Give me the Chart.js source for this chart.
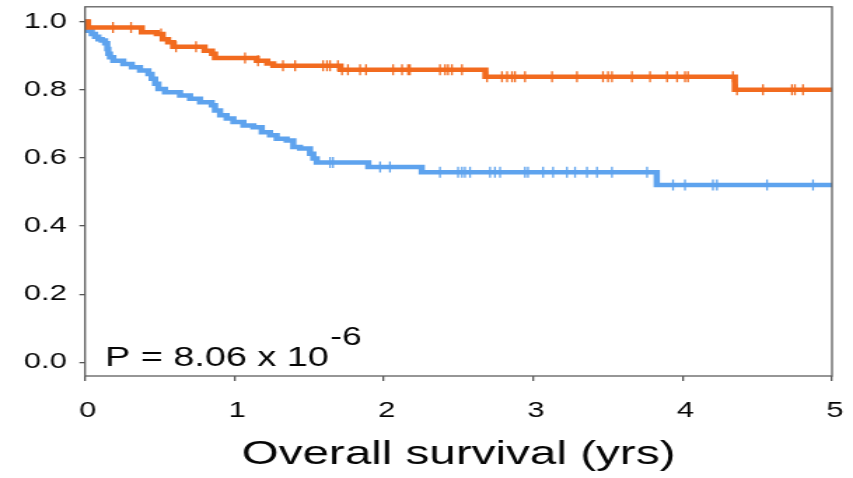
<!DOCTYPE html>
<html>
<head>
<meta charset="utf-8">
<script src="https://cdn.jsdelivr.net/npm/chart.js@4/dist/chart.umd.min.js"></script>
<style>
  html, body { margin: 0; padding: 0; background: #ffffff; }
  #wrap { width: 853px; height: 478px; overflow: hidden; }
</style>
</head>
<body>
<div id="wrap"><canvas id="c" width="609" height="478" style="display:block;width:853px;height:478px;"></canvas></div>
<script>
// ---- data (time in years, survival probability) ----
const xTickValues = [0, 1, 2, 3, 4, 5];
const yTickValues = [0.0, 0.2, 0.4, 0.6, 0.8, 1.0];

const orangeTimes = [0.00, 0.02, 0.38, 0.48, 0.52, 0.556, 0.59, 0.80, 0.85, 0.87, 1.15, 1.22, 1.26, 1.71, 2.68, 4.35, 5.00];
const orangeSurv  = [1.000, 0.982, 0.968, 0.963, 0.948, 0.939, 0.926, 0.914, 0.905, 0.893, 0.885, 0.877, 0.870, 0.858, 0.838, 0.800, 0.800];

const blueTimes = [0.00, 0.01, 0.022, 0.045, 0.067, 0.089, 0.112, 0.134, 0.149, 0.156, 0.167, 0.189, 0.256, 0.313, 0.368, 0.424, 0.446, 0.469, 0.491, 0.535, 0.636, 0.703, 0.770, 0.848, 0.870, 0.904, 0.948, 0.993, 1.060, 1.127, 1.183, 1.238, 1.283, 1.350, 1.394, 1.439, 1.506, 1.528, 1.551, 1.896, 2.254, 3.827, 5.00];
const blueSurv  = [1.000, 0.982, 0.973, 0.963, 0.955, 0.948, 0.944, 0.936, 0.919, 0.905, 0.895, 0.885, 0.875, 0.866, 0.856, 0.846, 0.832, 0.817, 0.802, 0.792, 0.783, 0.773, 0.763, 0.754, 0.739, 0.725, 0.715, 0.705, 0.695, 0.690, 0.675, 0.666, 0.656, 0.651, 0.632, 0.627, 0.612, 0.598, 0.586, 0.573, 0.558, 0.520, 0.520];

const orangeCensor = [0.187, 0.308, 0.509, 0.609, 0.743, 1.071, 1.158, 1.325, 1.406, 1.593, 1.620, 1.640, 1.693, 1.720, 1.760, 1.841, 1.881, 2.062, 2.122, 2.162, 2.175, 2.376, 2.410, 2.430, 2.456, 2.523, 2.691, 2.791, 2.825, 2.858, 2.878, 2.945, 3.126, 3.293, 3.467, 3.501, 3.527, 3.661, 3.782, 3.896, 3.963, 4.016, 4.036, 4.337, 4.364, 4.538, 4.732, 4.752, 4.806];
const blueCensor = [1.640, 1.660, 1.975, 2.041, 2.376, 2.497, 2.523, 2.543, 2.577, 2.711, 2.744, 2.778, 2.945, 2.965, 3.066, 3.133, 3.226, 3.280, 3.360, 3.427, 3.527, 3.762, 3.936, 4.016, 4.203, 4.230, 4.565, 4.873];

const pValueText = 'P = 8.06 x 10';
const pValueExp = '-6';
const xTitle = 'Overall survival (yrs)';

const ORANGE = '#f26b1f';
const BLUE = '#5ea3ee';
const FONT = '"Liberation Sans", Arial, Helvetica, sans-serif';
const TEXT = '#050505';

function survAt(times, surv, t) {
  let v = surv[0];
  for (let i = 0; i < times.length; i++) { if (times[i] <= t) v = surv[i]; }
  return v;
}
const toPts = (ts, ss) => ts.map((t, i) => ({ x: t, y: ss[i] }));
const censorPts = (cs, ts, ss) => cs.map(t => ({ x: t, y: survAt(ts, ss, t) }));

const boxPlugin = {
  id: 'boxAndP',
  afterDraw(chart) {
    const { ctx, chartArea: a } = chart;
    ctx.save();
    ctx.strokeStyle = '#5e5e5e';
    ctx.lineWidth = 1.3;
    ctx.strokeRect(a.left, a.top, a.right - a.left, a.bottom - a.top);
    ctx.fillStyle = TEXT;
    ctx.textBaseline = 'alphabetic';
    ctx.textAlign = 'left';
    ctx.font = '27px ' + FONT;
    ctx.fillText(pValueText, 75, 366);
    const w = ctx.measureText(pValueText).width;
    ctx.font = '25px ' + FONT;
    ctx.fillText(pValueExp, 75 + w + 1, 345);
    ctx.restore();
  }
};

new Chart(document.getElementById('c'), {
  type: 'line',
  data: {
    datasets: [
      { label: 'Orange group', data: toPts(orangeTimes, orangeSurv), stepped: true, borderColor: ORANGE, borderWidth: 4.5, pointRadius: 0, fill: false, order: 1 },
      { label: 'Orange censored', data: censorPts(orangeCensor, orangeTimes, orangeSurv), showLine: false, pointStyle: 'line', rotation: 90, pointRadius: 5.5, borderColor: ORANGE, pointBorderColor: ORANGE, pointBorderWidth: 1.3, order: 0 },
      { label: 'Blue group', data: toPts(blueTimes, blueSurv), stepped: true, borderColor: BLUE, borderWidth: 4.5, pointRadius: 0, fill: false, order: 3 },
      { label: 'Blue censored', data: censorPts(blueCensor, blueTimes, blueSurv), showLine: false, pointStyle: 'line', rotation: 90, pointRadius: 5.5, borderColor: BLUE, pointBorderColor: BLUE, pointBorderWidth: 1.3, order: 2 }
    ]
  },
  options: {
    responsive: false,
    devicePixelRatio: 1,
    animation: false,
    events: [],
    layout: { padding: { left: 0, right: 15, top: 6, bottom: 0 } },
    plugins: { legend: { display: false }, tooltip: { enabled: false }, title: { display: false } },
    scales: {
      x: {
        type: 'linear', min: 0, max: 5,
        afterFit: s => { s.height = 102; s.paddingLeft = 0; s.paddingRight = 0; },
        afterBuildTicks: s => { s.ticks = xTickValues.map(v => ({ value: v })); },
        border: { display: false },
        grid: { display: true, drawOnChartArea: false, drawTicks: true, tickLength: 5, color: '#555555', lineWidth: 1.3 },
        ticks: { color: TEXT, font: { family: FONT, size: 22 }, padding: 17, maxRotation: 0, labelOffset: 2, callback: v => String(v) },
        title: { display: true, text: xTitle, color: TEXT, font: { family: FONT, size: 34, lineHeight: 1.2 }, padding: { top: 0, bottom: 3 } }
      },
      y: {
        type: 'linear', min: -0.04, max: 1.043,
        afterFit: s => { s.width = 60.7; s.paddingTop = 0; s.paddingBottom = 0; },
        afterBuildTicks: s => { s.ticks = yTickValues.map(v => ({ value: v })); },
        border: { display: false },
        grid: { display: true, drawOnChartArea: false, drawTicks: true, tickLength: 4, color: '#555555', lineWidth: 1.3 },
        ticks: { color: TEXT, font: { family: FONT, size: 22 }, padding: 9, callback: v => Number(v).toFixed(1) }
      }
    }
  },
  plugins: [boxPlugin]
});
</script>
</body>
</html>
